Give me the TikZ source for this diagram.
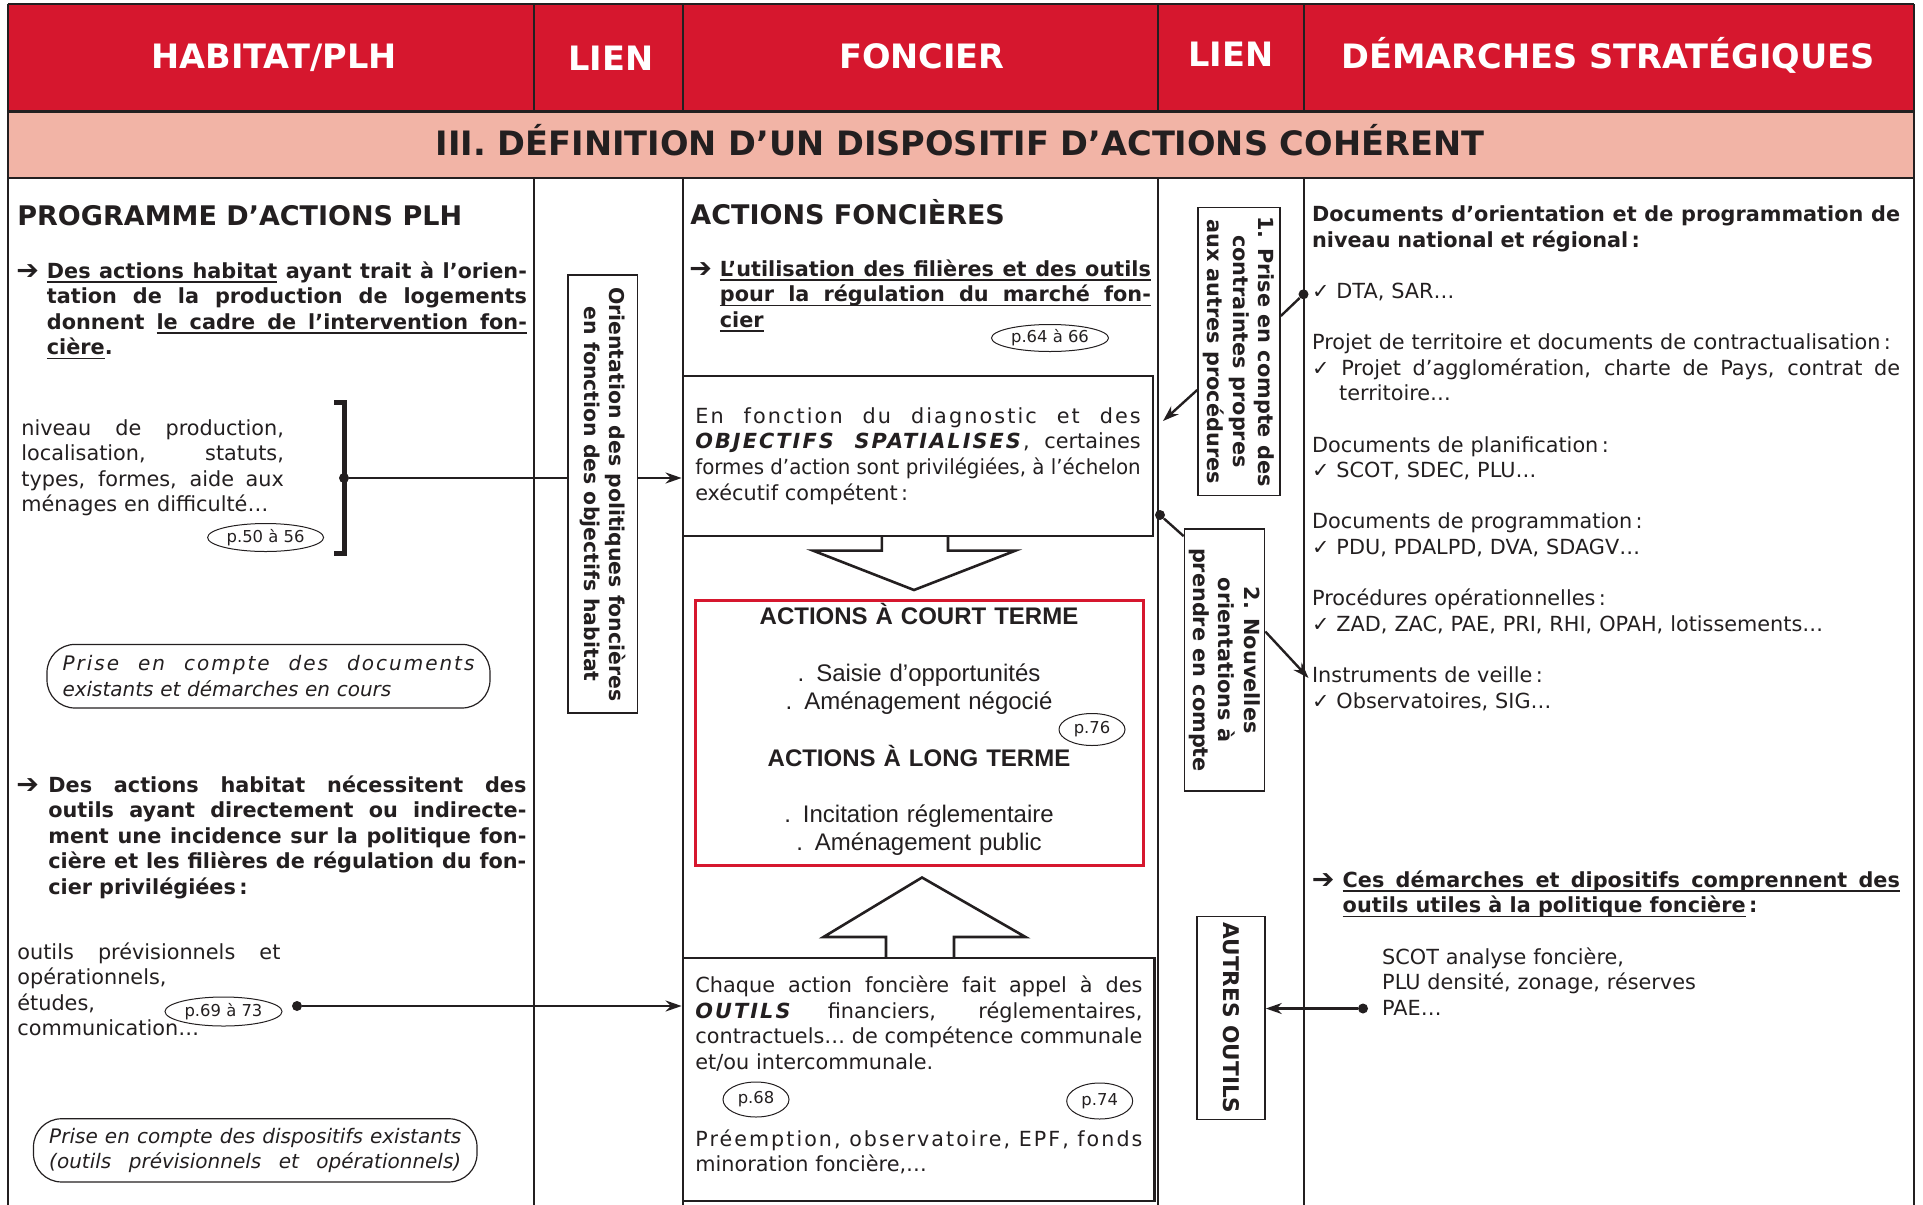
\documentclass[tikz,border=0pt]{standalone}
\usepackage{fontspec}
\usepackage{graphicx}
\setmainfont{DejaVu Sans}
\newfontfamily\arialfont{Liberation Sans}
\usetikzlibrary{arrows.meta,positioning,shapes.geometric,calc}
\definecolor{plhred}{HTML}{D6172E}
\definecolor{plhpink}{HTML}{F2B4A6}
\definecolor{ink}{HTML}{231F20}
\newcommand{\body}{\fontsize{10.4}{12.8}\selectfont}
\newcommand{\wide}{\addfontfeatures{LetterSpace=10}}
\newsavebox{\jlbox}
\newsavebox{\uwbox}
% justified line: stretch the spaces, or squeeze when too long
\newcommand{\jl}[1]{\leavevmode{\spaceskip=0pt\xspaceskip=0pt\sbox{\jlbox}{#1}%
  \ifdim\wd\jlbox>\hsize\resizebox{\hsize}{\height}{\usebox{\jlbox}}\else\makebox[\hsize][s]{#1}\fi}}
% underlined words and stretchable underlined spaces
\newcommand{\uw}[1]{\leavevmode\sbox{\uwbox}{#1}\rlap{\rule[-2.3pt]{\wd\uwbox}{0.7pt}}\usebox{\uwbox}}
\newcommand{\us}{\leaders\hrule height -1.6pt depth 2.3pt\hskip\fontdimen2\font plus\fontdimen3\font minus\fontdimen4\font}
\def\ul#1{\ulx#1 \relax}
\def\ulx#1 #2\relax{\uw{#1}\ifx\relax#2\relax\else\us\ulx#2\relax\fi}
\tikzset{
  rule/.style={draw=ink, line width=1pt},
  headtxt/.style={text=white, font=\fontsize{16.8}{20}\selectfont\bfseries, anchor=base, inner sep=0pt},
  sechead/.style={text=ink, font=\fontsize{13.5}{16}\selectfont\bfseries, anchor=base west, inner sep=0pt},
  para/.style={text=ink, font=\body, anchor=base west, inner sep=0pt, align=left},
  bpara/.style={para, font=\body\bfseries},
  arr/.style={text=ink, font=\fontsize{13.5}{13.5}\selectfont\bfseries, anchor=base west, inner sep=0pt},
  vbox/.style={draw=ink, line width=0.8pt, fill=white, rotate=-90, text=ink, font=\body\bfseries, align=center, inner sep=0pt},
  pref/.style={ellipse, draw=ink, line width=0.5pt, inner sep=0pt, text=ink, font=\fontsize{8.2}{9}\selectfont},
  pill/.style={draw=ink, line width=0.6pt, rounded corners=14pt, text=ink, font=\fontsize{10}{12.8}\selectfont\itshape, align=left},
  actbox/.style={draw=ink, line width=1.4pt},
  wire/.style={draw=ink, line width=1.2pt},
  link/.style={wire, -{Stealth[length=8pt,width=5.5pt]}},
  dot/.style={circle, fill=ink, inner sep=0pt, minimum size=5pt},
  blockarr/.style={draw=ink, line width=1.3pt, line join=miter},
}
\begin{document}
\begin{tikzpicture}[x=0.5pt,y=-0.5pt]
\useasboundingbox (0,0) rectangle (1923,1205);
% bandeau
\fill[plhred] (7.5,4) rectangle (1914,111.5);
\fill[plhpink] (7.5,111.5) rectangle (1914,177.5);
\draw[rule] (7.5,4) -- (1914,4);
\draw[rule, line width=1.5pt] (7.5,111.5) -- (1914,111.5);
\draw[rule] (7.5,177.5) -- (1914,177.5);
\draw[rule] (7.5,4) -- (7.5,1205) (1914,4) -- (1914,1205);
\foreach \cx in {533.5,683,1157.5,1303.5}
  \draw[rule] (\cx,4) -- (\cx,111.5) (\cx,177.5) -- (\cx,1205);
\node[headtxt] (hplh) at (274,68) {HABITAT/PLH};
\node[headtxt] (hlien) at (611,70) {LIEN};
\node[headtxt] (hfonc) at (922,68) {FONCIER};
\node[headtxt] (hliend) at (1231,66.5) {LIEN};
\node[headtxt] (hdem) at (1608,68) {DÉMARCHES STRATÉGIQUES};
\node[headtxt, text=ink] (htitle) at (960,155) {III. DÉFINITION D’UN DISPOSITIF D’ACTIONS COHÉRENT};

% habitat / PLH
\node[sechead] (plhtitle) at (17,225) {PROGRAMME D’ACTIONS PLH};
\node[arr] (arra) at (16,279) {➔};
\node[bpara, text width=240pt] (plhpara) at (46.5,278) {\jl{\ul{Des actions habitat} ayant trait à l’orien-}\\
  \jl{tation de la production de logements}\\
  \jl{donnent \ul{le cadre de l’intervention fon-}}\\
  \ul{cière}.};
\node[para, text width=131.25pt] (plhlist) at (21,435) {\jl{niveau de production,}\\
  \jl{localisation, statuts,}\\
  \jl{types, formes, aide aux}\\
  ménages en difficulté…};
\draw[ink, line width=2.5pt] (334,402) -- (344,402) -- (344,553) -- (334,553);
\node[dot] (bdot) at (344,478) {};
\node[pref, minimum width=58pt, minimum height=14pt] (pcinq) at (265.6,537.5) {p.50 à 56};
\node[pill, text width=206pt, minimum width=221.5pt, minimum height=31.8pt] (pilldoc) at (268.5,676.2)
  {\jl{\wide Prise en compte des documents}\\existants et démarches en cours};
\node[arr] (arrb) at (16,793) {➔};
\node[bpara, text width=239pt] (plhparb) at (48,792) {\jl{Des actions habitat nécessitent des}\\
  \jl{outils ayant directement ou indirecte-}\\
  \jl{ment une incidence sur la politique fon-}\\
  \jl{cière et les filières de régulation du fon-}\\
  cier privilégiées\,:};
\node[para, text width=131.5pt] (plhtools) at (17,959) {\jl{outils prévisionnels et}\\
  opérationnels,\\études,\\communication…};
\node[pref, minimum width=58.5pt, minimum height=14.5pt] (psix) at (223.5,1011.5) {p.69 à 73};
\node[dot] (tdot) at (297,1006) {};
\node[pill, text width=206pt, minimum width=221.75pt, minimum height=31.6pt] (pilldisp) at (255.25,1150.35)
  {\jl{Prise en compte des dispositifs existants}\\\jl{(outils prévisionnels et opérationnels)}};

% lien 1
\node[vbox, minimum width=219pt, minimum height=34.75pt, font=\fontsize{10.2}{12.8}\selectfont\bfseries] (orient) at (602.75,494.25)
  {Orientation des politiques foncières\\en fonction des objectifs habitat};

% foncier
\node[sechead] (fonctitle) at (690,224.5) {ACTIONS FONCIÈRES};
\node[arr] (arrc) at (689,277) {➔};
\node[bpara, text width=215.5pt] (foncpara) at (719.5,276) {\jl{\ul{L’utilisation des filières et des outils}}\\
  \jl{\ul{pour la régulation du marché fon-}}\\
  \ul{cier}};
\node[pref, minimum width=58.5pt, minimum height=13.5pt] (psoix) at (1050,338) {p.64 à 66};
\node[actbox, minimum width=235pt, minimum height=80pt, text width=222.7pt, text=ink, font=\body, align=left] (diag) at (918,456)
  {\jl{\wide En fonction du diagnostic et des}\\
  \jl{\textbf{\textit{\wide OBJECTIFS SPATIALISES}}, certaines}\\
  \jl{formes d’action sont privilégiées, à l’échelon}\\
  exécutif compétent\,:};
\draw[blockarr] (881.8,536) -- (881.8,550.6) -- (813,550.6) -- (914,590) -- (1015.5,550.6) -- (948,550.6) -- (948,536);
\node[draw=plhred, line width=1.5pt, minimum width=224.2pt, minimum height=132.15pt] (termbox) at (919.2,732.85) {};
\node[anchor=base, inner sep=0pt, text=ink, text width=210pt, align=center, font=\arialfont\fontsize{12}{14.15}\selectfont] (termtxt) at (919,624.5)
  {\textbf{ACTIONS À COURT TERME}\\[14.15pt]
  . Saisie d’opportunités\\
  . Aménagement négocié\\[14.15pt]
  \textbf{ACTIONS À LONG TERME}\\[14.15pt]
  . Incitation réglementaire\\
  . Aménagement public};
\node[pref, minimum width=33pt, minimum height=16pt] (pss) at (1092,729.5) {p.76};
\draw[blockarr] (886,958) -- (886,937) -- (823.5,937) -- (922,877.5) -- (1025.5,937) -- (954,937) -- (954,958);
\node[actbox, minimum width=235.75pt, minimum height=121.5pt] (toolbox) at (918.75,1079.5) {};
\node[para, text width=223.5pt] (tooltxt) at (695,992.5) {\jl{Chaque action foncière fait appel à des}\\
  \jl{\textbf{\textit{\wide OUTILS}} financiers, réglementaires,}\\
  \jl{contractuels… de compétence communale}\\
  et/ou intercommunale.};
\node[pref, minimum width=33pt, minimum height=17.5pt] (psh) at (756,1099.5) {p.68};
\node[pref, minimum width=33pt, minimum height=18pt] (pst) at (1099.7,1101) {p.74};
\node[para, text width=223.5pt] (tooleg) at (695,1146) {\jl{\wide Préemption, observatoire, EPF, fonds}\\
  minoration foncière,…};

% lien 2
\node[vbox, minimum width=144pt, minimum height=41pt] (contr) at (1239,351.5)
  {1. Prise en compte des\\contraintes propres\\aux autres procédures};
\node[vbox, minimum width=131pt, minimum height=40pt] (nouv) at (1224.5,660)
  {2. Nouvelles\\orientations à\\prendre en compte};
\node[vbox, minimum width=101.5pt, minimum height=34pt, font=\fontsize{10.8}{13}\selectfont\bfseries] (autres) at (1231,1018)
  {AUTRES OUTILS};

% demarches strategiques
\node[para, text width=294pt] (docs) at (1311.7,221.7) {\textbf{\jl{Documents d’orientation et de programmation de}}\\
  \textbf{niveau national et régional\,:}\\[12.8pt]
  ✓ DTA, SAR…\\[12.8pt]
  Projet de territoire et documents de contractualisation\,:\\
  \jl{✓ Projet d’agglomération, charte de Pays, contrat de}\\
  \hspace*{1.3em}territoire…\\[12.8pt]
  Documents de planification\,:\\
  ✓ SCOT, SDEC, PLU…\\[12.8pt]
  Documents de programmation\,:\\
  ✓ PDU, PDALPD, DVA, SDAGV…\\[12.8pt]
  Procédures opérationnelles\,:\\
  ✓ ZAD, ZAC, PAE, PRI, RHI, OPAH, lotissements…\\[12.8pt]
  Instruments de veille\,:\\
  ✓ Observatoires, SIG…};
\node[arr] (arrd) at (1311.5,888) {➔};
\node[bpara, text width=278.6pt] (cespara) at (1342.3,887) {\jl{\ul{Ces démarches et dipositifs comprennent des}}\\
  \ul{outils utiles à la politique foncière}\,:};
\node[para, text width=200pt] (scotlist) at (1381.8,964) {SCOT analyse foncière,\\PLU densité, zonage, réserves\\PAE…};
\node[dot] (sdot) at (1363,1008.5) {};
\node[dot] (ddot) at (1303.5,294.3) {};
\node[dot] (cdot) at (1160,515) {};
\coordinate (diagin) at (1163,421);
\coordinate (veille) at (1308.5,678);

% liaisons
\draw[wire] (bdot) -- (bdot -| orient.south);
\draw[link] (bdot -| orient.north) -- (bdot -| diag.west);
\draw[link] (tdot) -- (tdot -| toolbox.west);
\draw[link] (sdot) -- (sdot -| autres.north);
\draw[wire] (ddot) -- ($(contr.north)+(0,-35.5)$);
\draw[link] ($(contr.south)+(0,38.5)$) -- (diagin);
\draw[wire] (cdot) -- ($(nouv.south west)+(0,8)$);
\draw[link] ($(nouv.north)+(0,-28.5)$) -- (veille);
\end{tikzpicture}
\end{document}
